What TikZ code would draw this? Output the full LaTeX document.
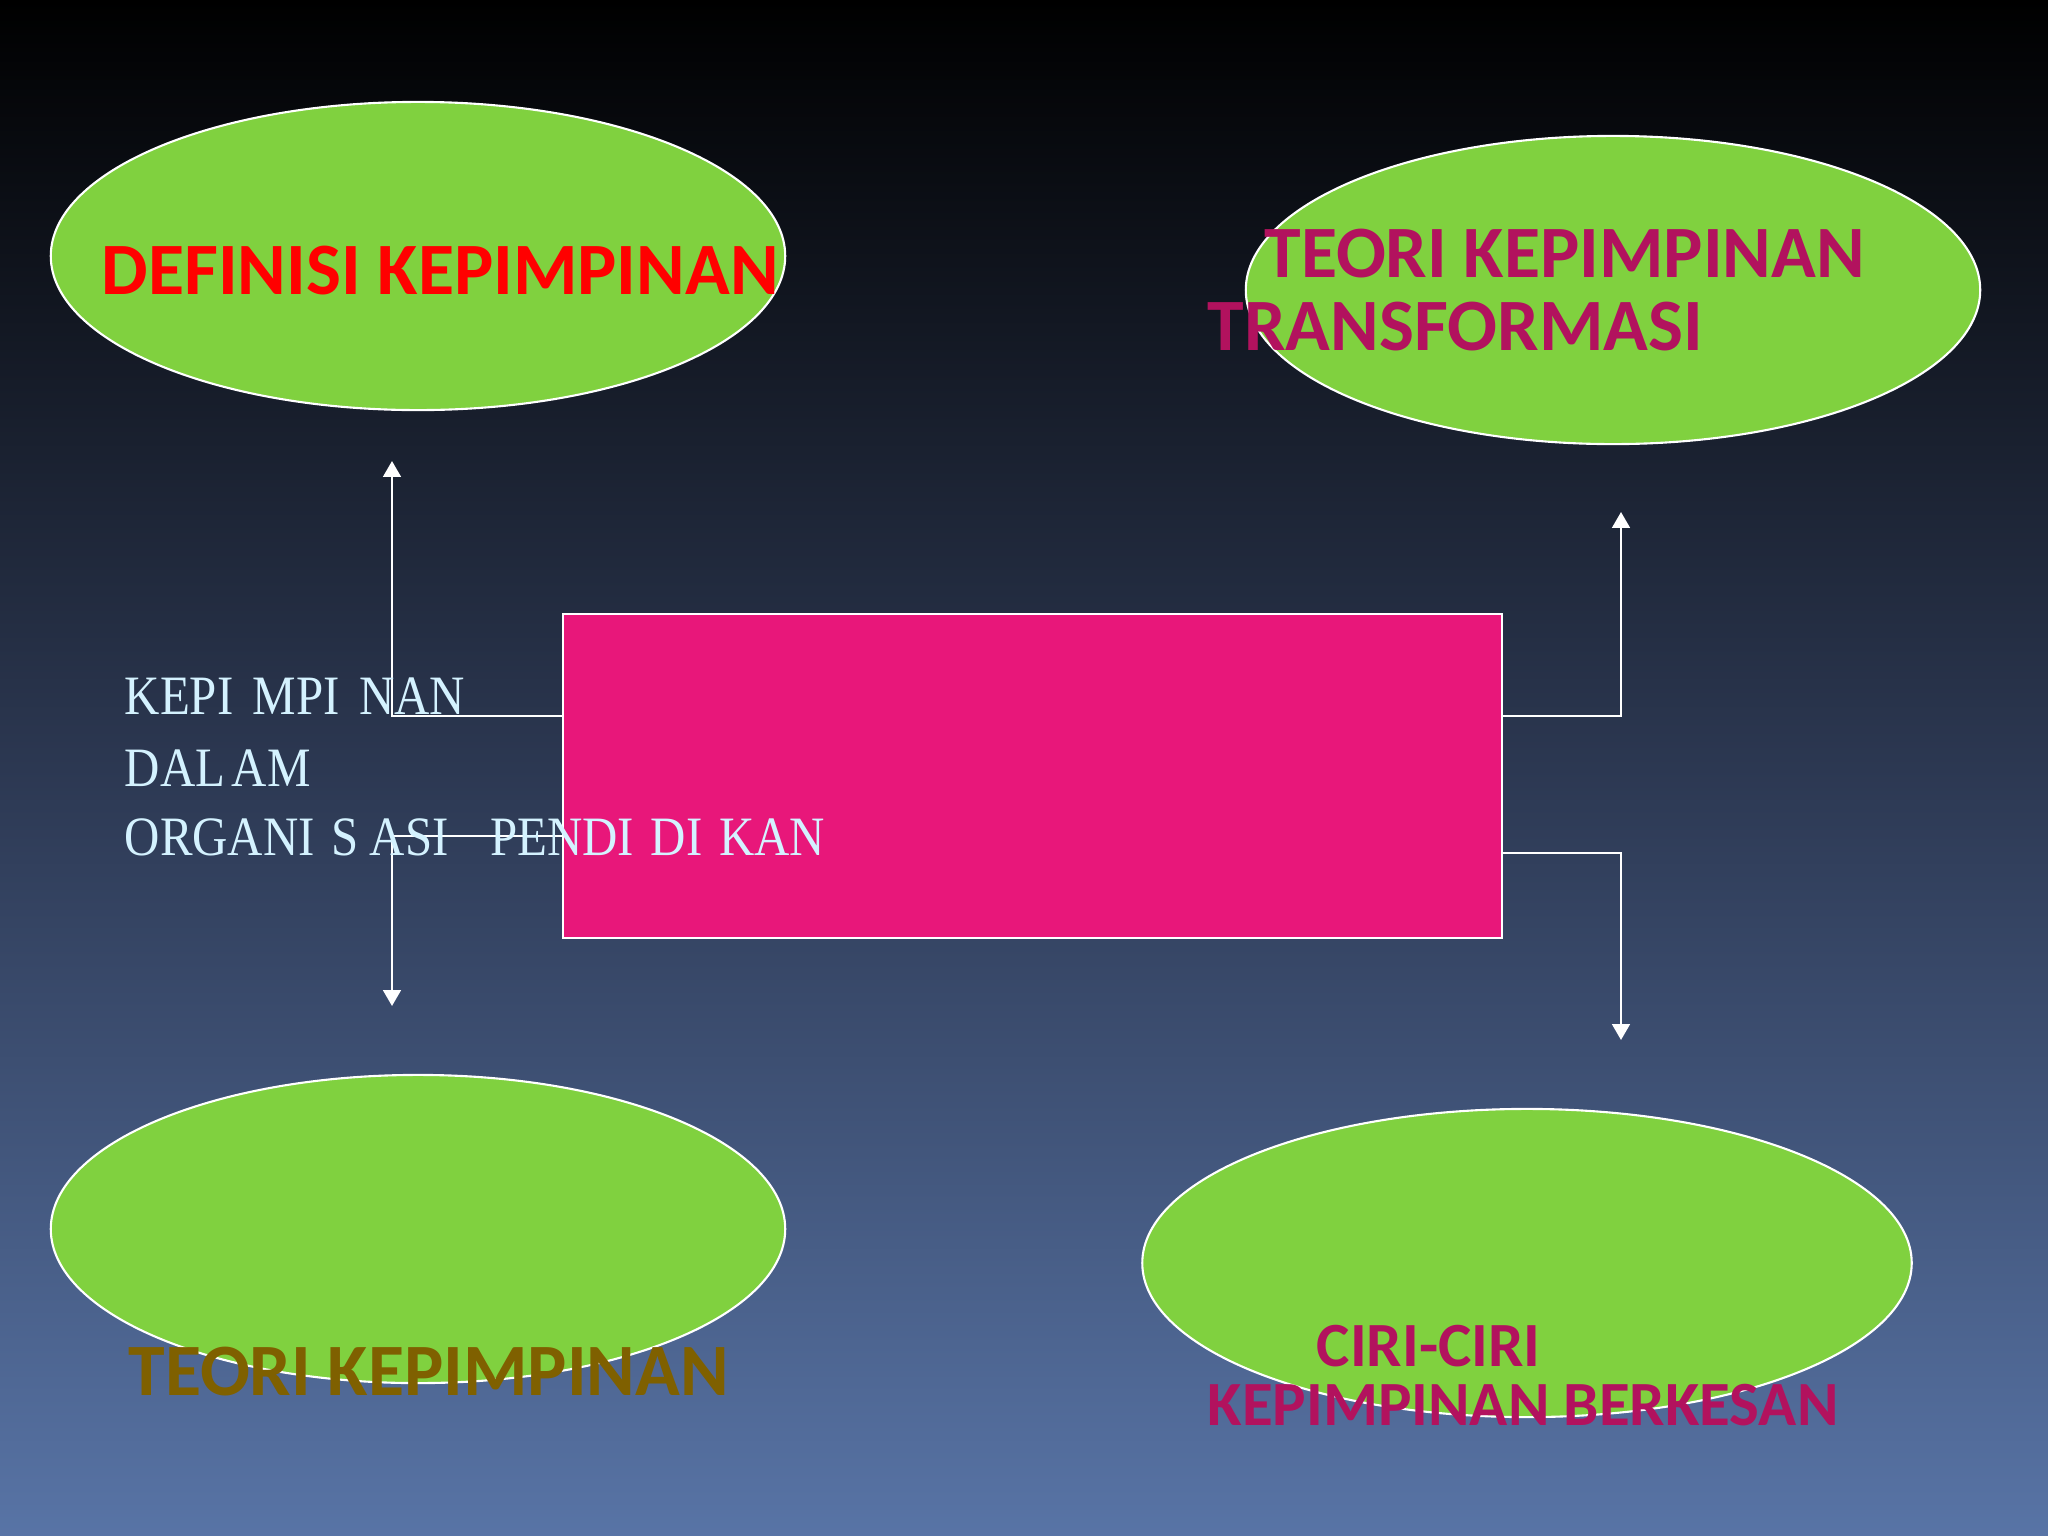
\documentclass[tikz,border=0pt]{standalone}
\usepackage{fontspec}
\setmainfont{Liberation Serif}
\newfontfamily\bodyfont[FakeStretch=0.88]{Liberation Serif}
\newfontfamily\lblfont{Carlito}
\usetikzlibrary{shapes.geometric,arrows.meta}
\definecolor{bgtop}{HTML}{000000}
\definecolor{bgmid}{HTML}{2C3852}
\definecolor{bgbot}{HTML}{5874A6}
\definecolor{leaf}{HTML}{80D13F}
\definecolor{hotpink}{HTML}{E8177A}
\definecolor{plum}{HTML}{B2125E}
\definecolor{olive}{HTML}{7F6000}
\definecolor{ice}{HTML}{D4F2FF}
\tikzset{
  blob/.style={ellipse, draw=white, line width=0.6pt, fill=leaf, inner sep=0pt},
  core/.style={rectangle, draw=white, line width=0.6pt, fill=hotpink, inner sep=0pt},
  conn/.style={draw=white, line width=0.7pt, -{Triangle[width=5pt,length=4.5pt]}},
  lbl/.style={anchor=base west, inner sep=0pt, font=\lblfont\bfseries\fontsize{21}{25}\selectfont},
  lblsm/.style={anchor=base west, inner sep=0pt, font=\lblfont\bfseries\fontsize{17.9}{22}\selectfont},
  body/.style={anchor=base west, inner sep=0pt, text=ice, font=\bodyfont\fontsize{15.8}{18}\selectfont}
}
\begin{document}
\begin{tikzpicture}[x=0.01cm,y=-0.01cm]
\useasboundingbox (0,0) rectangle (2048,1536);
\shade[top color=bgtop, bottom color=bgbot, middle color=bgmid] (0,0) rectangle (2048,1536);

% ellipses
\node[blob, minimum width=7.34cm, minimum height=3.08cm] (e1) at (418,256) {};
\node[blob, minimum width=7.34cm, minimum height=3.08cm] (e2) at (1613,290) {};
\node[blob, minimum width=7.34cm, minimum height=3.08cm] (e3) at (418,1229) {};
\node[blob, minimum width=7.69cm, minimum height=3.08cm] (e4) at (1527,1263) {};

% central rectangle
\node[core, minimum width=9.39cm, minimum height=3.24cm] (R) at (1032.5,776) {};

% connector end points
\coordinate (tl) at (392,461);
\coordinate (bl) at (392,1006);
\coordinate (tr) at (1621,512);
\coordinate (br) at (1621,1040);
\draw[conn] (R.west |- 0,716) -| (tl);
\draw[conn] (R.west |- 0,836) -| (bl);
\draw[conn] (R.east |- 0,716) -| (tr);
\draw[conn] (R.east |- 0,853) -| (br);

% body text
\node[body] (t1) at (124,714) {KEPI\kern0.35em MPI\kern0.35em NAN};
\node[body] (t2) at (124,786) {DAL\kern0.12em AM};
\node[body] (t3) at (124,855) {ORGANI\kern0.3em S\kern0.2em ASI\kern0.75em PENDI\kern0.3em DI\kern0.3em KAN};

% labels
\node[lbl, text=red] (l1) at (101,294) {DEFINISI KEPIMPINAN};
\node[lbl, text=plum] (l2) at (1264,277) {TEORI KEPIMPINAN};
\node[lbl, text=plum] (l3) at (1207,350) {TRANSFORMASI};
\node[lbl, text=olive] (l4) at (128,1395) {TEORI KEPIMPINAN};
\node[lblsm, text=plum] (l5) at (1316,1366) {CIRI-CIRI};
\node[lblsm, text=plum] (l6) at (1207,1425) {KEPIMPINAN BERKESAN};
\end{tikzpicture}
\end{document}
